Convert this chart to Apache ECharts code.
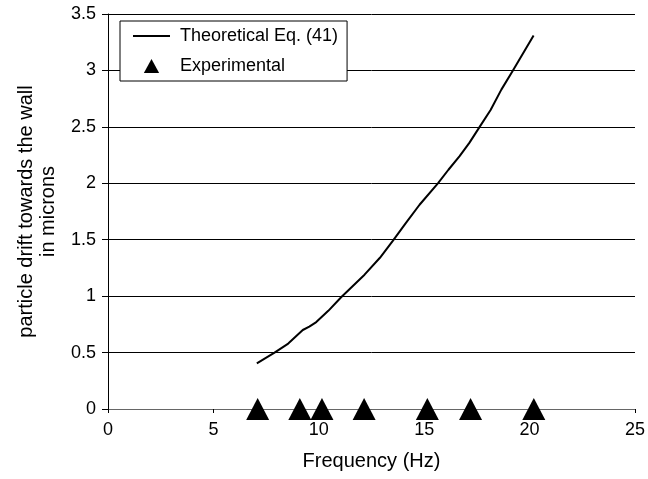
<!DOCTYPE html>
<html>
<head>
<meta charset="utf-8">
<script src="https://cdn.jsdelivr.net/npm/echarts@6/dist/echarts.min.js"></script>
<style>
  html, body { margin: 0; padding: 0; background: #fff; }
  #chart { width: 648px; height: 479px; }
</style>
</head>
<body>
<div id="chart"></div>
<script>
// theoretical drift curve, Eq. (41): frequency (Hz) and drift (microns)
const theoryFreq = [7.06, 7.9, 8.55, 9.24, 9.55, 9.88, 10.45, 11.06, 12.17, 12.9, 13.51, 14.1, 14.78, 15.65, 16.15, 16.68, 17.15, 17.63, 18.15, 18.66, 19.21, 20.19];
const theoryDrift = [0.405, 0.5, 0.58, 0.7, 0.73, 0.77, 0.87, 0.99, 1.19, 1.34, 1.49, 1.64, 1.81, 2.0, 2.12, 2.24, 2.36, 2.5, 2.65, 2.83, 3.0, 3.31];

// experimental points (no measurable drift)
const expFreq = [7.1, 9.1, 10.15, 12.15, 15.15, 17.2, 20.2];
const expDrift = [0, 0, 0, 0, 0, 0, 0];

const font = 'Liberation Sans, Arial, sans-serif';

const chart = echarts.init(document.getElementById('chart'));

chart.setOption({
  animation: false,
  backgroundColor: '#fff',
  textStyle: { fontFamily: font, color: '#000' },
  grid: { left: 108, right: 12, top: 14, bottom: 70 },
  legend: {
    orient: 'vertical',
    left: 120,
    top: 21,
    padding: [6, 9, 6, 13],
    itemWidth: 37,
    itemHeight: 14,
    itemGap: 12,
    symbolKeepAspect: true,
    backgroundColor: '#fff',
    borderColor: '#000',
    borderWidth: 1,
    textStyle: { fontFamily: font, fontSize: 18, color: '#000', padding: [0, 0, 0, 5] },
    data: [
      { name: 'Theoretical Eq. (41)', icon: 'path://M0 0H37V2H0Z' },
      // small triangle, kept at its own aspect inside the icon box
      { name: 'Experimental', icon: 'path://M6 0L12 11H0Z', itemStyle: { opacity: 1 } }
    ]
  },
  xAxis: {
    type: 'value',
    min: 0,
    max: 25,
    interval: 5,
    name: 'Frequency (Hz)',
    nameLocation: 'middle',
    nameGap: 42,
    nameTextStyle: { fontFamily: font, fontSize: 20, color: '#000' },
    axisLine: { onZero: false, lineStyle: { color: '#666', width: 1 } },
    axisTick: { show: true, length: 4, lineStyle: { color: '#000' } },
    axisLabel: { fontFamily: font, fontSize: 18, color: '#000', margin: 12 },
    splitLine: { show: false }
  },
  yAxis: {
    type: 'value',
    min: 0,
    max: 3.5,
    interval: 0.5,
    name: 'particle drift towards the wall\nin microns',
    nameLocation: 'middle',
    nameGap: 49,
    nameTextStyle: { fontFamily: font, fontSize: 20, color: '#000', lineHeight: 22, align: 'center' },
    axisLine: { show: true, lineStyle: { color: '#000', width: 1 } },
    axisTick: { show: true, length: 6, lineStyle: { color: '#000' } },
    axisLabel: { fontFamily: font, fontSize: 18, color: '#000', margin: 12 },
    splitLine: { show: true, lineStyle: { color: '#000', width: 1 } }
  },
  series: [
    {
      name: 'Theoretical Eq. (41)',
      type: 'line',
      data: theoryFreq.map((f, i) => [f, theoryDrift[i]]),
      showSymbol: false,
      symbol: 'none',
      lineStyle: { color: '#000', width: 2 },
      itemStyle: { color: '#000' }
    },
    {
      name: 'Experimental',
      type: 'scatter',
      data: expFreq.map((f, i) => [f, expDrift[i]]),
      symbol: 'triangle',
      symbolSize: [23, 22],
      clip: false,
      itemStyle: { color: '#000', opacity: 1 }
    }
  ]
});
</script>
</body>
</html>
